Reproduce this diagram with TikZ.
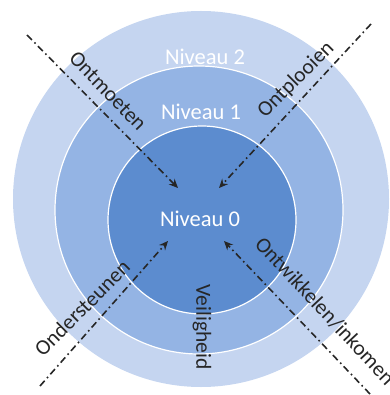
\documentclass[tikz,border=0pt]{standalone}
\usepackage{fontspec}
\setmainfont{Carlito}
\usetikzlibrary{arrows.meta}
\definecolor{ringouter}{RGB}{197,213,240}
\definecolor{ringmid}{RGB}{148,180,228}
\definecolor{ringinner}{RGB}{92,140,207}
\tikzset{
  ring/.style={draw=white, line width=1.2pt},
  lvl/.style={text=white, font=\fontsize{22.5}{25}\selectfont, inner sep=0pt},
  lab/.style={text=black!85, font=\fontsize{21.5}{24}\selectfont, inner sep=0pt},
  flow/.style={draw=black!85, line width=1.6pt, dash pattern=on 7pt off 3.5pt on 1.6pt off 3.5pt,
    -{Stealth[length=9pt,width=8pt,inset=3pt]}}
}
\begin{document}
\begin{tikzpicture}[x=1pt,y=-1pt]
\useasboundingbox (0,0) rectangle (389,395);
\begin{scope}
\clip (0,0) rectangle (389,395);
\fill[ringouter] (201,199) circle (188);
\draw[ring, fill=ringmid] (199,210) circle (144);
\draw[ring, fill=ringinner] (202,220) circle (94);
\end{scope}
\node[lvl] (n2) at (205,57) {Niveau 2};
\node[lvl] (n1) at (201,112) {Niveau 1};
\node[lvl] (n0) at (200,219) {Niveau 0};
% arrows
\coordinate (a1s) at (27,35);  \coordinate (a1e) at (178,188);
\coordinate (a2s) at (371,24); \coordinate (a2e) at (219,188);
\coordinate (a3s) at (40,386); \coordinate (a3e) at (168,241);
\coordinate (a4s) at (370,394); \coordinate (a4e) at (224,241);
\draw[flow] (a1s) -- (a1e);
\draw[flow] (a2s) -- (a2e);
\draw[flow] (a3s) -- (a3e);
\draw[flow] (a4s) -- (a4e);
% labels
\node[lab, rotate=-46] (l1) at (108,91) {Ontmoeten};
\node[lab, rotate=45] (l2) at (296,80) {Ontplooien};
\node[lab, rotate=45] (l3) at (82,308) {Ondersteunen};
\node[lab, rotate=-47] (l4) at (325,311) {Ontwikkelen/inkomen};
\node[lab, rotate=-90] (l5) at (202,327) {Veiligheid};
\end{tikzpicture}
\end{document}
